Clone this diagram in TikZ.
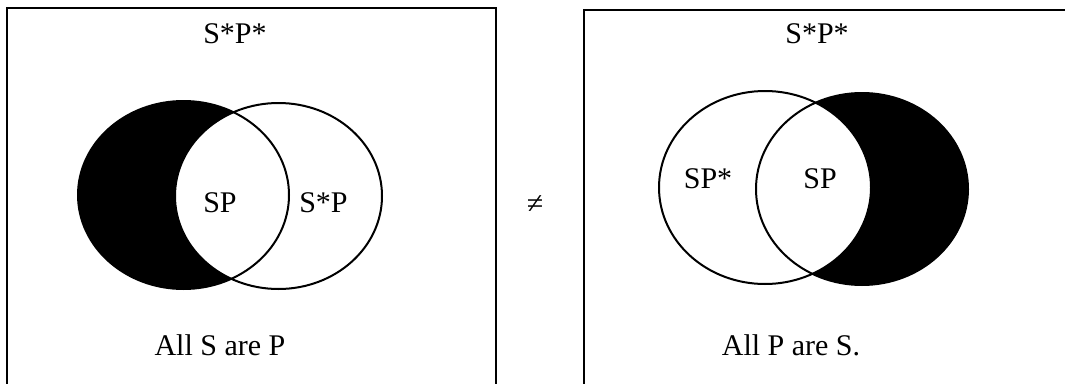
\documentclass[tikz,border=0pt]{standalone}
\usepackage{fontspec}
\setmainfont{Liberation Serif}
\begin{document}
\begin{tikzpicture}[x=1pt,y=-1pt,
  lbl/.style={font=\fontsize{30}{36}\selectfont, anchor=base, inner sep=0pt},
  frame/.style={line width=2pt, line cap=rect},
  ring/.style={line width=2pt}]
\useasboundingbox (0,0) rectangle (1065,383);
% frames (open at the bottom / right, as cut off)
\draw[frame] (7,386) -- (7,8) -- (496,8) -- (496,386);
\draw[frame] (584,386) -- (584,10) -- (1068,10);
% left diagram: All S are P
\fill[black] (183.5,195) ellipse [x radius=105.5, y radius=94];
\fill[white] (278.5,196) ellipse [x radius=103.5, y radius=93];
\draw[ring] (183.5,195) ellipse [x radius=105.5, y radius=94];
\draw[ring] (278.5,196) ellipse [x radius=103.5, y radius=93];
% right diagram: All P are S
\fill[black] (862,189) ellipse [x radius=106, y radius=96];
\fill[white] (765,187.5) ellipse [x radius=106, y radius=96.5];
\draw[ring] (765,187.5) ellipse [x radius=106, y radius=96.5];
\draw[ring] (862,189) ellipse [x radius=106, y radius=96];
% labels
\node[lbl] (tl) at (235,43) {S*P*};
\node[lbl] (sp1) at (220,212) {SP};
\node[lbl] (sp1b) at (323.5,212) {S*P};
\node[lbl] (cl) at (220,355) {All S are P};
\node[lbl] (tr) at (817,43) {S*P*};
\node[lbl] (sp2a) at (708,188) {SP*};
\node[lbl] (sp2) at (820,188) {SP};
\node[lbl] (cr) at (791,355) {All P are S.};
\node[lbl] (neq) at (535,213) {≠};
\end{tikzpicture}
\end{document}
